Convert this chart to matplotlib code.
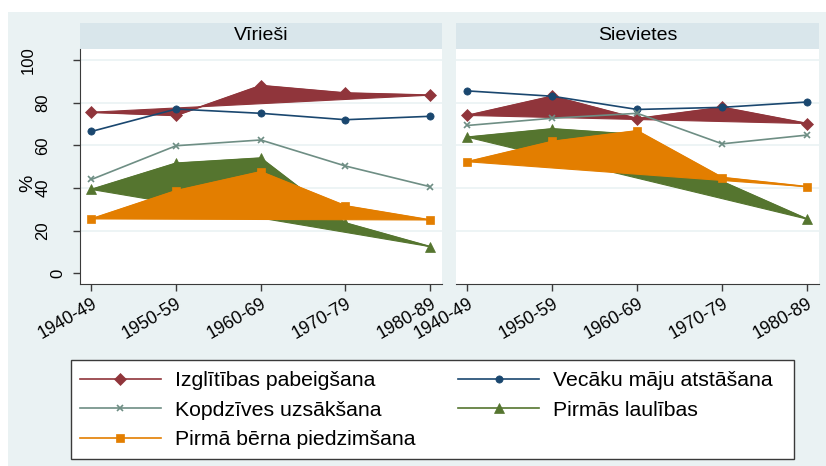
#!/usr/bin/env python3
"""
Dzīves notikumi pa dzimšanas kohortām: vīrieši un sievietes (Stata s2color stils).
"""
import matplotlib
matplotlib.use('Agg')
import matplotlib.pyplot as plt
from matplotlib.patches import Rectangle

plt.rcParams['font.family'] = ['Liberation Sans', 'DejaVu Sans']

# ----- data -----
cohorts = ['1940-49', '1950-59', '1960-69', '1970-79', '1980-89']
panels = ['Vīrieši', 'Sievietes']

# values in %, [Vīrieši, Sievietes]
izglitiba = [[75.5, 74, 88, 84.5, 83.5], [74, 83, 72.5, 77.8, 70.2]]
vecaku_majas = [[66.5, 77, 75, 72, 73.6], [85.5, 83, 76.8, 77.8, 80.3]]
kopdzive = [[44, 59.8, 62.5, 50.3, 40.6], [69.3, 72.7, 75, 60.7, 64.8]]
laulibas = [[39.3, 51.6, 54, 23.6, 12.5], [63.8, 67.7, 65, 43, 25.4]]
berns = [[25.5, 38.7, 47.6, 31.6, 25], [52.3, 61.8, 66.8, 44.9, 40.6]]

series_labels = ['Izglītības pabeigšana', 'Vecāku māju atstāšana',
                 'Kopdzīves uzsākšana', 'Pirmās laulības',
                 'Pirmā bērna piedzimšana']
yticks = [0, 20, 40, 60, 80, 100]

# Stata s2color palette
C_MAROON = '#90353B'
C_NAVY = '#1A476F'
C_TEAL = '#6E8E84'
C_GREEN = '#55752F'
C_ORANGE = '#E37E00'
BG = '#EAF2F3'
STRIP = '#D9E6EB'
AXCOL = '#3a3a3a'

W, H = 826, 466


def fx(px):
    return px / W


def fy(px):
    return 1 - px / H


def main():
    fig = plt.figure(figsize=(W / 100, H / 100), dpi=100, facecolor='white')
    # outer graph region (behind everything)
    fig.patches.append(Rectangle((fx(8), 0), 1 - fx(8), fy(12), transform=fig.transFigure,
                                 facecolor=BG, edgecolor='none', zorder=-10))

    axes_px = [(80, 442), (456, 819)]
    top, bottom = 49.3, 284
    handles = []
    for i, (x0, x1) in enumerate(axes_px):
        ax = fig.add_axes([fx(x0), fy(bottom), fx(x1 - x0), (bottom - top) / H])
        ax.set_facecolor('white')
        xs = list(range(len(cohorts)))

        # filled series are drawn as closed polygons + line/markers
        spec = [
            (izglitiba[i], C_MAROON, 'D', 6.3, True),
            (vecaku_majas[i], C_NAVY, 'o', 5.2, False),
            (kopdzive[i], C_TEAL, 'x', 5.0, False),
            (laulibas[i], C_GREEN, '^', 7.2, True),
            (berns[i], C_ORANGE, 's', 5.8, True),
        ]
        hs = []
        for k, (vals, col, mk, ms, filled) in enumerate(spec):
            z = 2 + k
            if filled:
                ax.fill(xs, vals, color=col, lw=0.8, zorder=z)
            h, = ax.plot(xs, vals, color=col, lw=1.2, marker=mk, ms=ms,
                         mew=1.2 if mk == 'x' else 0.5, mfc=col, mec=col,
                         zorder=z, label=series_labels[k])
            hs.append(h)
        if i == 0:
            handles = hs

        ax.set_xlim(-0.135, 4.14)
        ax.set_ylim(-5, 105)
        ax.set_xticks(xs)
        ax.set_xticklabels(cohorts, fontsize=12.8)
        plt.setp(ax.get_xticklabels(), rotation=30, ha='right', va='top',
                 rotation_mode='anchor')
        ax.tick_params(axis='x', length=5, width=1, color=AXCOL, pad=3)
        ax.set_yticks(yticks)
        ax.yaxis.grid(True, color=BG, lw=1.2)
        ax.yaxis.get_gridlines()[0].set_visible(False)
        ax.set_axisbelow(True)

        for s in ['top', 'right']:
            ax.spines[s].set_visible(False)
        ax.spines['bottom'].set_color(AXCOL)
        ax.spines['left'].set_color(AXCOL)

        if i == 0:
            ax.tick_params(axis='y', length=5, width=1, color=AXCOL, labelleft=False)
            # rotated y labels, staggered like the Stata output
            for v in yticks:
                lab = str(v)
                off = 4.8 + 10.9 * len(lab)
                ax.annotate(lab, xy=(0, v), xycoords=ax.get_yaxis_transform(),
                            xytext=(-off, 0), textcoords='offset points',
                            rotation=90, ha='center', va='center', fontsize=12)
            ax.text(-0.145, 0.43, '%', transform=ax.transAxes, rotation=90,
                    ha='center', va='center', fontsize=14)
        else:
            ax.spines['left'].set_visible(False)
            ax.tick_params(axis='y', length=0, labelleft=False)

        # panel strip
        sh = (top - 22.7) / (bottom - top)
        ax.add_patch(Rectangle((0, 1), 1, sh, transform=ax.transAxes, facecolor=STRIP,
                               edgecolor='none', clip_on=False))
        ax.text(0.5, 1 + sh / 2, panels[i], transform=ax.transAxes, ha='center',
                va='center', fontsize=14)

    # legend frame + legend
    fig.patches.append(Rectangle((fx(71), fy(459)), fx(794 - 71), (459 - 360) / H,
                                 transform=fig.transFigure, facecolor='white',
                                 edgecolor=AXCOL, lw=1, zorder=-5))
    order = [0, 2, 4, 1, 3]
    fig.legend([handles[j] for j in order], [series_labels[j] for j in order],
               loc='upper left', bbox_to_anchor=(fx(80), fy(371)), ncol=2,
               frameon=False, borderpad=0, borderaxespad=0, fontsize=15.3,
               handlelength=3.8, handletextpad=0.68, columnspacing=2.0,
               labelspacing=0.5)

    fig.savefig('out.png', dpi=100, facecolor='white')
    plt.close(fig)


if __name__ == "__main__":
    main()
